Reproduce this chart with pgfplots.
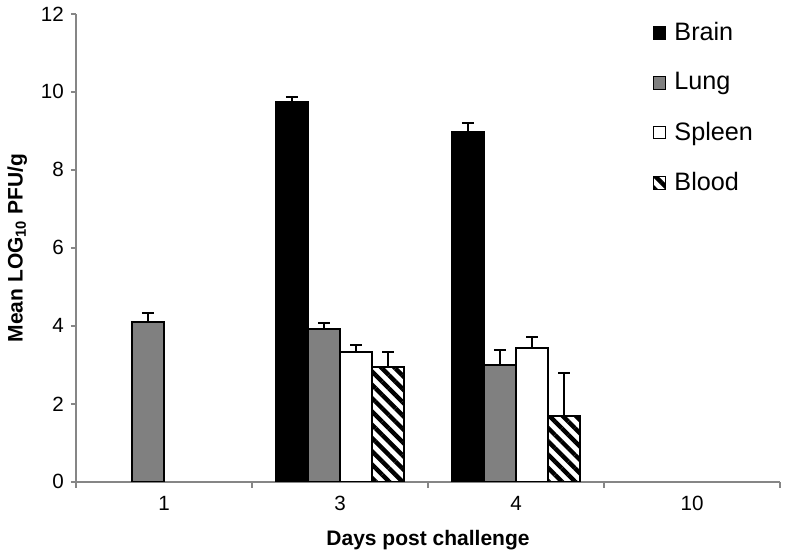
\documentclass[border=0pt]{standalone}
\usepackage{pgfplots}
\pgfplotsset{compat=1.18}
\usepackage{fontspec}
\setmainfont{Liberation Sans}
\usetikzlibrary{patterns.meta,calc}
\definecolor{axgray}{RGB}{134,134,134}
\definecolor{lunggray}{RGB}{128,128,128}

\begin{document}
\begin{tikzpicture}
\begin{axis}[
  scale only axis,
  width=352pt, height=234pt,
  ybar,
  xmin=-0.5, xmax=3.5,
  ymin=0, ymax=12,
  axis lines*=left,
  axis line style={draw=axgray, line width=0.8pt},
  tick align=outside,
  ytick={0,2,...,12},
  xtick={0,1,2,3},
  xticklabels={1,3,4,10},
  minor xtick={-0.5,0.5,1.5,2.5,3.5},
  major x tick style={draw=none},
  minor x tick style={draw=axgray, line width=0.8pt},
  y tick style={draw=axgray, line width=0.8pt},
  major tick length=2.6pt, minor tick length=3pt,
  tick label style={font=\fontsize{10.3}{12}\selectfont},
  /pgf/number format/assume math mode=true,
  xticklabel style={yshift=-1pt},
  ylabel={\textbf{Mean LOG\textsubscript{10} PFU/g}},
  xlabel={\textbf{Days post challenge}},
  label style={font=\fontsize{10.5}{12}\selectfont},
  xlabel style={yshift=-3pt},
  legend style={at={(rel axis cs:0.81,1.0)}, anchor=north west,
    draw=none, fill=none, font=\fontsize{12.6}{15}\selectfont,
    row sep=10.5pt, legend cell align=left,
    /tikz/every odd column/.append style={column sep=2pt}},
  legend image code/.code={\draw[#1, line width=0.5pt] (0pt,-3.2pt) rectangle (6.4pt,3.2pt);},
  error bars/y dir=plus,
  error bars/y explicit,
  error bars/error bar style={black, line width=1pt},
  error bars/error mark options={black, line width=1pt, mark size=3pt, rotate=90},
]
\addplot[fill=black, draw=black, line width=1pt, bar width=0.18, bar shift=-0.273]
  coordinates {(1,9.75) +- (0,0.12) (2,8.97) +- (0,0.23)};
\addplot[fill=lunggray, draw=black, line width=1pt, bar width=0.18, bar shift=-0.091]
  coordinates {(0,4.10) +- (0,0.23) (1,3.93) +- (0,0.15) (2,3.00) +- (0,0.39)};
\addplot[fill=white, draw=black, line width=1pt, bar width=0.18, bar shift=0.091]
  coordinates {(1,3.33) +- (0,0.19) (2,3.43) +- (0,0.28)};
\addplot[pattern={Lines[angle=-45, distance=4.7pt, line width=2.2pt]}, pattern color=black,
  draw=black, line width=1pt, bar width=0.18, bar shift=0.273]
  coordinates {(1,2.95) +- (0,0.37) (2,1.69) +- (0,1.10)};
\legend{Brain, Lung, Spleen, Blood}
\end{axis}
\path[use as bounding box] ($(current axis.south west)+(-38pt,-38pt)$) rectangle ($(current axis.north east)+(2.5pt,4.2pt)$);
\end{tikzpicture}
\end{document}
